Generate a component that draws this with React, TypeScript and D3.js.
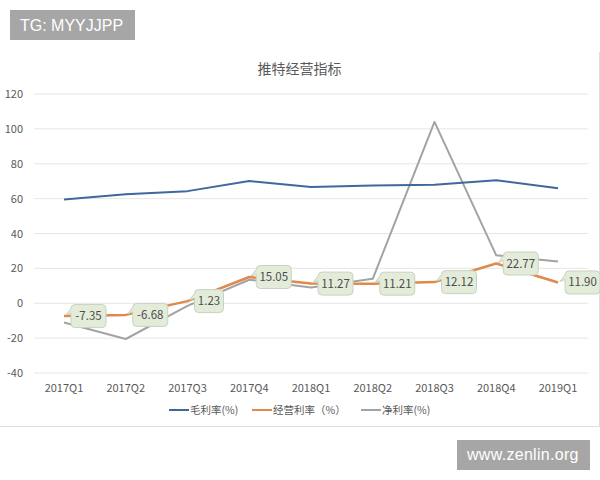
import React from "react";
import * as d3 from "d3";

const quarters = ["2017Q1", "2017Q2", "2017Q3", "2017Q4", "2018Q1", "2018Q2", "2018Q3", "2018Q4", "2019Q1"];
const grossMargin = [59.5, 62.5, 64.3, 70.1, 66.6, 67.5, 68, 70.6, 66];
const operatingMargin = [-7.35, -6.68, 1.23, 15.05, 11.27, 11.21, 12.12, 22.77, 11.9];
const netMargin = [-11, -20.5, -1.5, 13.5, 9, 14, 104, 27.5, 24];
const operatingLabels = ["-7.35", "-6.68", "1.23", "15.05", "11.27", "11.21", "12.12", "22.77", "11.90"];
const yTicks = [120, 100, 80, 60, 40, 20, 0, -20, -40];
const legendNames = ["毛利率(%)", "经营利率（%）", "净利率(%)"];

const FONT = "'Noto Sans CJK SC', 'Noto Sans', sans-serif";
const MARK_FONT = "'Liberation Sans', Arial, sans-serif";
const BLUE = "#3f689f";
const ORANGE = "#dd8a4b";
const GRAY = "#a3a3a3";

const x = d3.scalePoint<string>().domain(quarters).range([64, 558]);
const y = d3.scaleLinear().domain([-40, 120]).range([373, 94]);

const line = d3.line<number>()
    .x((d, i) => x(quarters[i]) as number)
    .y((d) => y(d));

// callout with a small tail pointing left at the data point
function calloutPath(left: number, cy: number, w: number, h: number) {
    const r = 4;
    const top = cy - h / 2;
    const bottom = cy + h / 2;
    const right = left + w;
    return `M${left + r},${top} L${right - r},${top} Q${right},${top} ${right},${top + r}
        L${right},${bottom - r} Q${right},${bottom} ${right - r},${bottom}
        L${left + r},${bottom} Q${left},${bottom} ${left},${bottom - r}
        L${left},${cy - 3} L${left - 5},${cy - 1} L${left},${top + r} Q${left},${top} ${left + r},${top} Z`;
}

export default function App() {
    const series = [
        { name: legendNames[0], values: grossMargin, color: BLUE, lx: 169 },
        { name: legendNames[1], values: operatingMargin, color: ORANGE, lx: 252 },
        { name: legendNames[2], values: netMargin, color: GRAY, lx: 361 },
    ];

    return (
        <svg width={600} height={480} style={{ position: "absolute", left: 0, top: 0, background: "#fff" }} fontFamily={FONT}>
            {/* 外框 */}
            <line x1={0} x2={600} y1={426.5} y2={426.5} stroke="#dedede" />
            <line x1={599.5} x2={599.5} y1={52} y2={426} stroke="#dedede" />

            {/* 水印 */}
            <rect x={10} y={10} width={125} height={30} fill="#a6a6a6" />
            <text x={20} y={31} fontSize={16} fill="#fff" fontFamily={MARK_FONT}>TG: MYYJJPP</text>
            <rect x={457} y={440} width={133} height={30} fill="#a6a6a6" />
            <text x={467} y={460} fontSize={16} fill="#fff" fontFamily={MARK_FONT} letterSpacing={0.3}>www.zenlin.org</text>

            <text x={299.5} y={74} textAnchor="middle" fontSize={14} fill="#595959">推特经营指标</text>

            {yTicks.map((t) => (
                <g key={t}>
                    <line x1={34} x2={588} y1={y(t)} y2={y(t)} stroke="#e6e6e6" strokeWidth={1} />
                    <text x={23} y={y(t) + 4} textAnchor="end" fontSize={11} fill="#595959">{t}</text>
                </g>
            ))}

            {quarters.map((q) => (
                <text key={q} x={x(q)} y={392} textAnchor="middle" fontSize={11} fill="#595959">{q}</text>
            ))}

            {[netMargin, grossMargin, operatingMargin].map((values) => {
                const s = series.find((d) => d.values === values)!;
                const width = values === operatingMargin ? 2.5 : 2;
                return <path key={s.name} d={line(values) || ""} fill="none" stroke={s.color} strokeWidth={width} strokeLinejoin="round" />;
            })}

            {operatingMargin.map((v, i) => {
                const w = operatingLabels[i].length < 5 ? 29 : 35;
                const left = (x(quarters[i]) as number) + 7;
                return (
                    <g key={quarters[i]}>
                        <path d={calloutPath(left, y(v), w, 23)} fill="#e3ecd9" stroke="#c9d2c2" strokeWidth={1} />
                        <text x={left + w / 2} y={y(v) + 4} textAnchor="middle" fontSize={11.5} fill="#4d4d4d">{operatingLabels[i]}</text>
                    </g>
                );
            })}

            {series.map((s) => (
                <g key={s.name}>
                    <line x1={s.lx} x2={s.lx + 20} y1={410} y2={410} stroke={s.color} strokeWidth={2} />
                    <text x={s.lx + 21} y={413.5} fontSize={10.5} fill="#595959">{s.name}</text>
                </g>
            ))}
        </svg>
    );
}
